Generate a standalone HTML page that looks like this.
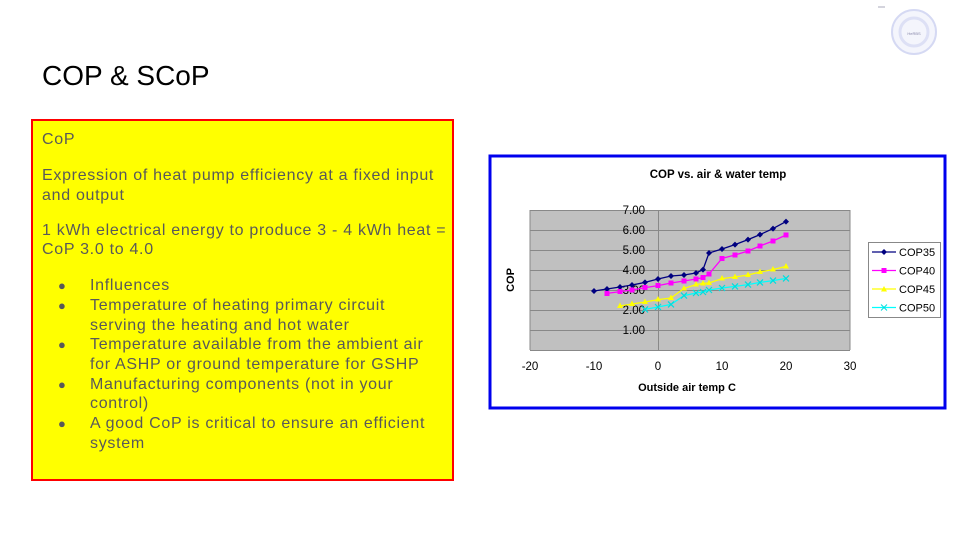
<!DOCTYPE html>
<html><head><meta charset="utf-8"><style>
body{margin:0;width:960px;height:540px;background:#fff;position:relative;overflow:hidden;font-family:"Liberation Sans",sans-serif}
.t{position:absolute;font-size:16px;color:#595959;white-space:nowrap;line-height:20px;letter-spacing:0.7px}
.b{position:absolute;left:58px;font-size:13px;color:#595959}
</style></head><body>
<div style="position:absolute;left:42px;top:60px;font-size:28px;color:#000">COP &amp; SCoP</div>
<div style="position:absolute;left:31px;top:119px;width:419px;height:358px;background:#ff0;border:2px solid #f00"></div>
<div class="t" style="left:42px;top:130px">CoP</div>
<div class="t" style="left:42px;top:166px">Expression of heat pump efficiency at a fixed input</div>
<div class="t" style="left:42px;top:186px">and output</div>
<div class="t" style="left:42px;top:221px">1 kWh electrical energy to produce 3 - 4 kWh heat =</div>
<div class="t" style="left:42px;top:240px">CoP 3.0 to 4.0</div>
<div class="b" style="top:278px">●</div><div class="t" style="left:90px;top:276px">Influences</div>
<div class="b" style="top:298px">●</div><div class="t" style="left:90px;top:296px">Temperature of heating primary circuit</div>
<div class="t" style="left:90px;top:316px">serving the heating and hot water</div>
<div class="b" style="top:337px">●</div><div class="t" style="left:90px;top:335px">Temperature available from the ambient air</div>
<div class="t" style="left:90px;top:355px">for ASHP or ground temperature for GSHP</div>
<div class="b" style="top:377px">●</div><div class="t" style="left:90px;top:375px">Manufacturing components (not in your</div>
<div class="t" style="left:90px;top:394px">control)</div>
<div class="b" style="top:416px">●</div><div class="t" style="left:90px;top:414px">A good CoP is critical to ensure an efficient</div>
<div class="t" style="left:90px;top:434px">system</div>
<svg style="position:absolute;left:0;top:0" width="960" height="540" font-family="Liberation Sans, sans-serif">
<circle cx="914" cy="32" r="22" fill="#f4f5fc" stroke="#d5d9f3" stroke-width="2"/>
<circle cx="914" cy="32" r="14" fill="none" stroke="#dde0f5" stroke-width="3"/>
<line x1="878" y1="7" x2="885" y2="7" stroke="#aab" />
<text x="914" y="35" font-size="4" fill="#88a" text-anchor="middle">HeRBS</text>
<rect x="490" y="156" width="455" height="252" fill="#fff" stroke="#0000ee" stroke-width="3"/>
<text x="718" y="178" font-size="11.5" font-weight="bold" text-anchor="middle">COP vs. air &amp; water temp</text>
<rect x="530" y="210" width="320" height="140" fill="#c0c0c0"/>
<g stroke="#888" stroke-width="1">
<line x1="530" y1="210.5" x2="850" y2="210.5"/><line x1="530" y1="230.5" x2="850" y2="230.5"/><line x1="530" y1="250.5" x2="850" y2="250.5"/><line x1="530" y1="270.5" x2="850" y2="270.5"/><line x1="530" y1="290.5" x2="850" y2="290.5"/><line x1="530" y1="310.5" x2="850" y2="310.5"/><line x1="530" y1="330.5" x2="850" y2="330.5"/>
<line x1="530" y1="350.5" x2="850" y2="350.5"/><line x1="658.5" y1="210" x2="658.5" y2="350"/>
<line x1="530" y1="210" x2="530" y2="350"/><line x1="850" y1="210" x2="850" y2="350"/>
</g>
<g font-size="11.5" text-anchor="end" fill="#000">
<text x="645" y="214">7.00</text><text x="645" y="234">6.00</text><text x="645" y="254">5.00</text><text x="645" y="274">4.00</text><text x="645" y="294">3.00</text><text x="645" y="314">2.00</text><text x="645" y="334">1.00</text>
</g>
<g font-size="11.5" text-anchor="middle">
<text x="530" y="370">-20</text><text x="594" y="370">-10</text><text x="658" y="370">0</text><text x="722" y="370">10</text><text x="786" y="370">20</text><text x="850" y="370">30</text>
</g>
<text x="687" y="391" font-size="11" font-weight="bold" text-anchor="middle">Outside air temp C</text>
<text x="514" y="280" font-size="11" font-weight="bold" text-anchor="middle" transform="rotate(-90 514 280)">COP</text>
<polyline fill="none" stroke="#000080" stroke-width="1.3" points="594,291 607,289 620,287 632,285 645,282.4 658,279 671,276 684,275 696,273 703,269.6 709,253 722,249 735,244.6 748,239.6 760,234.6 773,228.6 786,221.6"/>
<g fill="#000080">
<path d="M594,288l3,3-3,3-3-3z M607,286l3,3-3,3-3-3z M620,284l3,3-3,3-3-3z M632,282l3,3-3,3-3-3z M645,279.4l3,3-3,3-3-3z M658,276l3,3-3,3-3-3z M671,273l3,3-3,3-3-3z M684,272l3,3-3,3-3-3z M696,270l3,3-3,3-3-3z M703,266.6l3,3-3,3-3-3z M709,250l3,3-3,3-3-3z M722,246l3,3-3,3-3-3z M735,241.6l3,3-3,3-3-3z M748,236.6l3,3-3,3-3-3z M760,231.6l3,3-3,3-3-3z M773,225.6l3,3-3,3-3-3z M786,218.6l3,3-3,3-3-3z"/>
</g>
<polyline fill="none" stroke="#ff00ff" stroke-width="1.3" points="607,293.4 620,291.6 632,290 645,287.6 658,285.6 671,283 684,281 696,279 703,277.6 709,274 722,258.4 735,255 748,251 760,246 773,241 786,235"/>
<g fill="#ff00ff">
<rect x="604.5" y="291" width="5" height="5"/><rect x="617.5" y="289" width="5" height="5"/><rect x="629.5" y="287.5" width="5" height="5"/><rect x="642.5" y="285" width="5" height="5"/><rect x="655.5" y="283" width="5" height="5"/><rect x="668.5" y="280.5" width="5" height="5"/><rect x="681.5" y="278.5" width="5" height="5"/><rect x="693.5" y="276.5" width="5" height="5"/><rect x="700.5" y="275" width="5" height="5"/><rect x="706.5" y="271.5" width="5" height="5"/><rect x="719.5" y="256" width="5" height="5"/><rect x="732.5" y="252.5" width="5" height="5"/><rect x="745.5" y="248.5" width="5" height="5"/><rect x="757.5" y="243.5" width="5" height="5"/><rect x="770.5" y="238.5" width="5" height="5"/><rect x="783.5" y="232.5" width="5" height="5"/>
</g>
<polyline fill="none" stroke="#ffff00" stroke-width="1.3" points="620,306 632,304 645,302 658,299.6 671,298 684,288.4 696,284.6 703,283.4 709,283 722,278.6 735,277 748,275 760,272 773,269.6 786,266.4"/>
<g fill="#ffff00">
<path d="M620,302.5l3,5.5h-6z M632,300.5l3,5.5h-6z M645,298.5l3,5.5h-6z M658,296l3,5.5h-6z M671,294.5l3,5.5h-6z M684,285l3,5.5h-6z M696,281l3,5.5h-6z M703,280l3,5.5h-6z M709,279.5l3,5.5h-6z M722,275l3,5.5h-6z M735,273.5l3,5.5h-6z M748,271.5l3,5.5h-6z M760,268.5l3,5.5h-6z M773,266l3,5.5h-6z M786,263l3,5.5h-6z"/>
</g>
<polyline fill="none" stroke="#00ffff" stroke-width="1.3" points="645,309.4 658,307 671,304.4 684,295.6 696,293 703,292 709,290 722,288 735,286.4 748,284.6 760,282.4 773,280.6 786,278.4"/>
<g stroke="#00dddd" stroke-width="1.2">
<path d="M642,306.4l6,6m0-6l-6,6 M655,304l6,6m0-6l-6,6 M668,301.4l6,6m0-6l-6,6 M681,292.6l6,6m0-6l-6,6 M693,290l6,6m0-6l-6,6 M700,289l6,6m0-6l-6,6 M706,287l6,6m0-6l-6,6 M719,285l6,6m0-6l-6,6 M732,283.4l6,6m0-6l-6,6 M745,281.6l6,6m0-6l-6,6 M757,279.4l6,6m0-6l-6,6 M770,277.6l6,6m0-6l-6,6 M783,275.4l6,6m0-6l-6,6"/>
</g>
<rect x="868.5" y="242.5" width="72" height="75" fill="#fff" stroke="#888"/>
<g font-size="11">
<line x1="872" y1="252" x2="896" y2="252" stroke="#000080" stroke-width="1.3"/><path d="M884,249l3,3-3,3-3-3z" fill="#000080"/><text x="899" y="256">COP35</text>
<line x1="872" y1="270.5" x2="896" y2="270.5" stroke="#ff00ff" stroke-width="1.3"/><rect x="881.5" y="268" width="5" height="5" fill="#ff00ff"/><text x="899" y="274.5">COP40</text>
<line x1="872" y1="289" x2="896" y2="289" stroke="#ffff00" stroke-width="1.3"/><path d="M884,286l3,5.5h-6z" fill="#ffff00"/><text x="899" y="293">COP45</text>
<line x1="872" y1="307.5" x2="896" y2="307.5" stroke="#00ffff" stroke-width="1.3"/><path d="M881,304.5l6,6m0-6l-6,6" stroke="#00dddd"/><text x="899" y="311.5">COP50</text>
</g>
</svg>
</body></html>
